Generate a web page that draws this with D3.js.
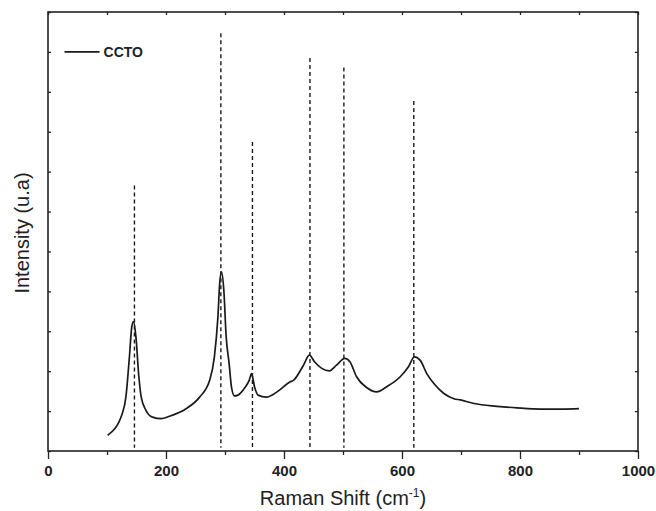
<!DOCTYPE html>
<html>
<head>
<meta charset="utf-8">
<script src="https://cdn.jsdelivr.net/npm/d3@7"></script>
<style>
  body { margin: 0; background: #fff; }
  svg { display: block; font-family: "Liberation Sans", Arial, sans-serif; }
  .frame { fill: none; stroke: #222; stroke-width: 1.6; }
  .axis path { display: none; }
  .axis line { stroke: #222; stroke-width: 1.3; }
  .axis text { font-size: 15px; font-weight: bold; fill: #222; font-family: "Liberation Sans", Arial, sans-serif; }
  .spectrum { fill: none; stroke: #1a1a1a; stroke-width: 1.7; }
  .peak { stroke: #1a1a1a; stroke-width: 1.4; stroke-dasharray: 4 3; }
  .axis-label { font-size: 20px; fill: #222; }
</style>
</head>
<body>
<div id="chart"></div>
<script>
document.addEventListener('DOMContentLoaded', function() {
        // Data (intensity in arbitrary units)
        const ramanShift = [101, 126, 132, 138, 142, 145, 149, 154, 158, 166, 177, 192, 206, 234, 257, 274, 282, 288, 291, 294, 298, 302, 307, 311, 316, 322, 333, 341, 345, 350, 356, 370, 390, 410, 416, 433, 443, 452, 464, 477, 489, 503, 512, 523, 540, 557, 574, 597, 611, 621, 631, 642, 654, 671, 688, 699, 722, 761, 795, 835, 875, 900];
        const intensity = [0.39, 0.94, 1.35, 2.36, 3.11, 3.24, 2.86, 1.86, 1.35, 1.02, 0.85, 0.81, 0.87, 1.06, 1.35, 1.77, 2.36, 3.36, 4.20, 4.49, 4.03, 2.86, 2.19, 1.60, 1.38, 1.40, 1.57, 1.77, 1.94, 1.61, 1.40, 1.35, 1.50, 1.73, 1.77, 2.15, 2.40, 2.23, 2.07, 2.01, 2.15, 2.32, 2.23, 1.86, 1.59, 1.48, 1.61, 1.86, 2.11, 2.36, 2.27, 1.94, 1.69, 1.44, 1.31, 1.28, 1.19, 1.12, 1.08, 1.05, 1.05, 1.06];

        // Dashed peak markers
        const peakPositions = [146.5, 293, 346.5, 444, 501.5, 620];
        const peakHeights = [6.65, 10.47, 7.74, 9.85, 9.61, 8.77];

        // Axis ticks
        const xTicks = [0, 200, 400, 600, 800, 1000];
        const xMinorTicks = [100, 300, 500, 700, 900];
        const yTicks = d3.range(0, 12, 1);

        // Set up dimensions
        const margin = { top: 12, right: 18, bottom: 60, left: 48 };
        const width = 656 - margin.left - margin.right;
        const height = 511 - margin.top - margin.bottom;

        const svg = d3.select("#chart")
            .append("svg")
            .attr("width", 656)
            .attr("height", 511)
            .append("g")
            .attr("transform", `translate(${margin.left},${margin.top})`);

        // Scales
        const xScale = d3.scaleLinear()
            .domain([0, 1000])
            .range([0, width]);

        const yScale = d3.scaleLinear()
            .domain([0, 11])
            .range([height, 0]);

        // Bottom axis: major ticks with labels, minor ticks shorter
        svg.append("g")
            .attr("class", "axis")
            .attr("transform", `translate(0,${height})`)
            .call(d3.axisBottom(xScale).tickValues(xTicks).tickSize(8).tickPadding(6).tickFormat(d3.format("d")));

        svg.append("g")
            .attr("class", "axis")
            .attr("transform", `translate(0,${height})`)
            .call(d3.axisBottom(xScale).tickValues(xMinorTicks).tickSize(4).tickFormat(""));

        // Top axis: inward ticks every 100
        svg.append("g")
            .attr("class", "axis")
            .call(d3.axisTop(xScale).tickValues(xTicks.concat(xMinorTicks)).tickSize(-3).tickFormat(""));

        // Left and right axes: inward ticks, no labels
        svg.append("g")
            .attr("class", "axis")
            .call(d3.axisLeft(yScale).tickValues(yTicks).tickSize(-3).tickFormat(""));

        svg.append("g")
            .attr("class", "axis")
            .attr("transform", `translate(${width},0)`)
            .call(d3.axisRight(yScale).tickValues(yTicks).tickSize(-3).tickFormat(""));

        // Frame
        svg.append("rect")
            .attr("class", "frame")
            .attr("width", width)
            .attr("height", height);

        // Dashed peak lines
        svg.selectAll(".peak")
            .data(peakPositions)
            .enter().append("line")
            .attr("class", "peak")
            .attr("x1", d => xScale(d))
            .attr("x2", d => xScale(d))
            .attr("y1", (d, i) => yScale(peakHeights[i]))
            .attr("y2", yScale(0.08));

        // Spectrum
        const points = ramanShift.map((x, i) => [x, intensity[i]]);
        const line = d3.line()
            .x(d => xScale(d[0]))
            .y(d => yScale(d[1]))
            .curve(d3.curveMonotoneX);

        svg.append("path")
            .datum(points)
            .attr("class", "spectrum")
            .attr("d", line);

        // Legend
        const legend = svg.append("g")
            .attr("transform", `translate(${xScale(28)},${yScale(10)})`);
        legend.append("line")
            .attr("x1", 0).attr("x2", 35)
            .attr("y1", 0).attr("y2", 0)
            .attr("stroke", "#1a1a1a")
            .attr("stroke-width", 1.7);
        legend.append("text")
            .attr("x", 39)
            .attr("y", 5)
            .style("font-size", "14px")
            .style("font-weight", "bold")
            .style("fill", "#222")
            .text("CCTO");

        // Axis labels
        const xLabel = svg.append("text")
            .attr("class", "axis-label")
            .attr("text-anchor", "middle")
            .attr("x", width / 2)
            .attr("y", height + 54);
        xLabel.append("tspan").text("Raman Shift (cm");
        xLabel.append("tspan").attr("dy", -8).style("font-size", "12px").text("-1");
        xLabel.append("tspan").attr("dy", 8).text(")");

        svg.append("text")
            .attr("class", "axis-label")
            .attr("text-anchor", "middle")
            .attr("transform", "rotate(-90)")
            .attr("x", -(233 - margin.top))
            .attr("y", -margin.left + 29)
            .text("Intensity (u.a)");
});
</script>
</body>
</html>
